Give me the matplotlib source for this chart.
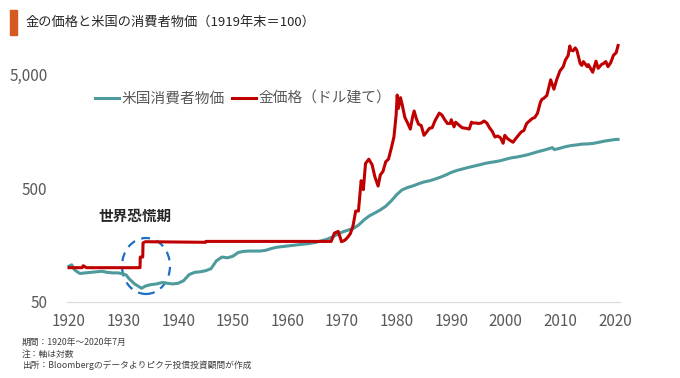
import matplotlib.pyplot as plt
from matplotlib.patches import Ellipse, Rectangle
from matplotlib.ticker import FixedLocator, FuncFormatter

plt.rcParams['font.family'] = ['Noto Sans CJK JP', 'DejaVu Sans']

# 米国消費者物価 (1919年末=100)
cpi_year = [1920.0, 1920.5, 1921.0, 1921.5, 1922, 1923, 1924, 1925, 1926, 1927,
            1928, 1929, 1930, 1930.5, 1931, 1932, 1933.3, 1934, 1935, 1936,
            1937, 1938, 1939, 1940, 1941, 1942, 1943, 1944, 1945, 1946,
            1947, 1948, 1949, 1950, 1951, 1952, 1953, 1954, 1955, 1956,
            1957, 1958, 1959, 1960, 1961, 1962, 1963, 1964, 1965, 1966,
            1967, 1968, 1969, 1970, 1971, 1972, 1973, 1974, 1975, 1976,
            1977, 1978, 1979, 1980, 1981, 1982, 1983, 1984, 1985, 1986,
            1987, 1988, 1989, 1990, 1991, 1992, 1993, 1994, 1995, 1996,
            1997, 1998, 1999, 2000, 2001, 2002, 2003, 2004, 2005, 2006,
            2007, 2008.5, 2008.9, 2009, 2010, 2011, 2012, 2013, 2014, 2015,
            2016, 2017, 2018, 2019, 2020.0, 2020.55]
cpi_val = [103, 106, 96, 92, 89, 90, 91, 92, 93, 91,
           90, 90, 88, 86, 80, 72, 66, 69, 71, 72,
           74, 73, 72, 73, 77, 87, 91, 92, 94, 98,
           115, 124, 122, 126, 136, 139, 140, 140, 140, 142,
           147, 151, 153, 155, 157, 159, 161, 163, 166, 171,
           176, 184, 194, 205, 213, 220, 236, 262, 285, 302,
           321, 346, 385, 437, 482, 505, 522, 545, 565, 578,
           598, 622, 650, 685, 712, 733, 755, 775, 795, 818,
           836, 850, 868, 895, 920, 935, 955, 980, 1012, 1045,
           1075, 1130, 1085, 1090, 1120, 1155, 1180, 1195, 1215, 1218,
           1232, 1258, 1288, 1310, 1332, 1335]

# 金価格(ドル建て) (1919年末=100)
gold_year = [1920, 1922.4, 1922.6, 1923.2, 1933.0, 1933.05, 1933.5, 1933.55, 1934.0,
             1945.0, 1945.1, 1968.0, 1968.3, 1968.6, 1969.3, 1969.9, 1970.5, 1971.0,
             1971.5, 1972.0, 1972.5, 1973.0, 1973.5, 1973.9, 1974.3, 1974.9, 1975.5,
             1976.0, 1976.6, 1977.0, 1977.5, 1978.0, 1978.5, 1979.0, 1979.5, 1979.9,
             1980.1, 1980.3, 1980.7, 1981.0, 1981.5, 1982.0, 1982.5, 1982.9, 1983.2,
             1983.6, 1984.0, 1984.5, 1985.0, 1985.5, 1986.0, 1986.5, 1987.0, 1987.8,
             1988.3, 1988.8, 1989.3, 1989.8, 1990.0, 1990.5, 1990.8, 1991.5, 1992.0,
             1992.7, 1993.3, 1993.7, 1994.0, 1994.5, 1995.0, 1995.5, 1996.0, 1996.5,
             1997.0, 1997.5, 1998.0, 1998.5, 1999.0, 1999.5, 1999.8, 2000.3, 2000.8,
             2001.3, 2001.8, 2002.3, 2002.8, 2003.3, 2003.8, 2004.3, 2004.8, 2005.3,
             2005.8, 2006.3, 2006.6, 2006.9, 2007.5, 2007.9, 2008.2, 2008.8, 2009.3,
             2009.9, 2010.5, 2010.9, 2011.4, 2011.7, 2011.9, 2012.3, 2012.7, 2013.0,
             2013.4, 2013.6, 2013.9, 2014.2, 2014.9, 2015.1, 2015.9, 2016.5, 2016.9,
             2017.5, 2017.9, 2018.3, 2018.7, 2019.2, 2019.7, 2020.2, 2020.55]
gold_val = [100, 100, 104, 100, 100, 124, 124, 165, 169,
            167, 170, 170, 184, 201, 208, 169, 174, 184,
            198, 232, 314, 314, 580, 484, 822, 895, 800,
            630, 520, 650, 700, 850, 895, 1110, 1400, 2180,
            3270, 2490, 3100, 2710, 2080, 1860, 1645, 2080, 2370,
            2030, 1815, 1765, 1450, 1550, 1670, 1690, 1935, 2270,
            2180, 1985, 1840, 1840, 1985, 1720, 1890, 1765, 1690,
            1670, 1645, 1890, 1860, 1860, 1840, 1860, 1935, 1860,
            1690, 1570, 1400, 1430, 1380, 1235, 1450, 1355, 1305,
            1260, 1355, 1450, 1550, 1600, 1840, 1935, 2030, 2080,
            2270, 2805, 3000, 3050, 3240, 3870, 4450, 3680, 4450,
            5320, 5800, 6630, 7260, 8800, 8130, 7980, 8470, 8080,
            6770, 6190, 5950, 6430, 5800, 6050, 5180, 6480, 5610,
            6050, 6190, 6430, 5800, 6290, 7300, 7690, 8900]

ytick_vals = [50, 500, 5000]
xtick_vals = list(range(1920, 2021, 10))

fig = plt.figure(figsize=(6.8, 3.78), dpi=100)
ax = fig.add_axes([67 / 680, 1 - 302 / 378, 553 / 680, 262.3 / 378])

ax.plot(cpi_year, cpi_val, color='#4E9A9C', lw=2.2, label='米国消費者物価')
ax.plot(gold_year, gold_val, color='#C00000', lw=2.2, label='金価格（ドル建て）')

ax.set_yscale('log')
ax.set_ylim(50, 10000)
ax.set_xlim(1919.63, 2020.9)
ax.yaxis.set_major_locator(FixedLocator(ytick_vals))
ax.yaxis.set_minor_locator(FixedLocator([]))
ax.yaxis.set_major_formatter(FuncFormatter(lambda v, p: f'{v:,.0f}'))
ax.set_xticks(xtick_vals)

for s in ['top', 'right', 'left']:
    ax.spines[s].set_visible(False)
ax.spines['bottom'].set_color('#D9D9D9')
ax.tick_params(axis='both', length=0, labelsize=11, labelcolor='#595959')
ax.tick_params(axis='x', pad=8)
ax.tick_params(axis='y', pad=14)

ax.legend(loc='center left', bbox_to_anchor=(95 / 680, 1 - 99 / 378),
          bbox_transform=fig.transFigure, ncol=2, frameon=False, fontsize=10.6,
          handlelength=1.6, handletextpad=0.2, columnspacing=0.5,
          borderpad=0, borderaxespad=0, labelcolor='#595959')

# 世界恐慌期
ax.text(98 / 680, 1 - 216 / 378, '世界恐慌期', transform=fig.transFigure,
        fontsize=10.5, fontweight='bold', color='#262626', va='center', ha='left')
ax.add_patch(Ellipse(((146 - 67) / 553, (302 - 266) / 262.3), 48 / 553, 56 / 262.3,
                     transform=ax.transAxes, fill=False, edgecolor='#1F6FC5',
                     lw=1.6, ls=(0, (4, 3)), clip_on=False))

fig.patches.append(Rectangle((10 / 680, 1 - 35 / 378), 7 / 680, 25 / 378,
                             transform=fig.transFigure, color='#D55A22'))
fig.text(25 / 680, 1 - 22.5 / 378, '金の価格と米国の消費者物価（1919年末＝100）',
         fontsize=9.5, color='#262626', va='center')

notes = ['期間：1920年～2020年7月', '注：軸は対数', '出所：Bloombergのデータよりピクテ投信投資顧問が作成']
for i, t in enumerate(notes):
    fig.text(22 / 680, 1 - (342.5 + i * 11.5) / 378, t, fontsize=6.3,
             color='#404040', va='center')

fig.savefig('out.png', dpi=100)
